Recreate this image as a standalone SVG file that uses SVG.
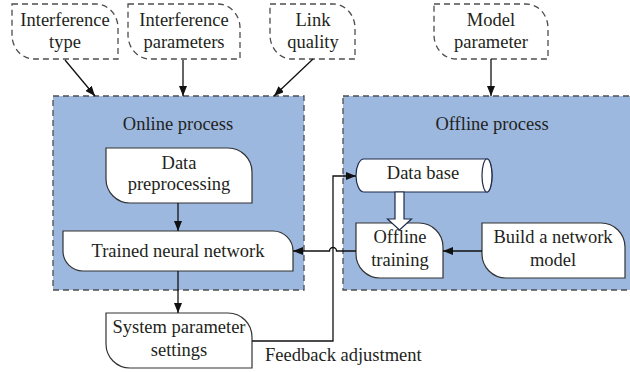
<svg xmlns="http://www.w3.org/2000/svg" width="630" height="372" viewBox="0 0 630 372">
<defs>
<style>
text{font-family:"Liberation Serif","Times New Roman",serif;font-size:18.5px;fill:#231f20;text-anchor:middle}
.panel{fill:#9cb8df;stroke:#4d4d4d;stroke-width:1.3;stroke-dasharray:6 4}
.input{fill:#fff;stroke:#4d4d4d;stroke-width:1.3;stroke-dasharray:6 4}
.proc{fill:#fff;stroke:#333;stroke-width:1.2}
.conn{fill:none;stroke:#111;stroke-width:1.3}
.db{fill:#fff;stroke:#1f2a4a;stroke-width:1.2}
</style>
<marker id="ah" viewBox="0 0 10 8" refX="10" refY="4" markerWidth="10" markerHeight="8" markerUnits="userSpaceOnUse" orient="auto">
<path d="M0 0 L10 4 L0 8 Z" fill="#111"/>
</marker>
</defs>

<g id="online-panel">
<rect class="panel" x="53" y="96" width="251" height="194"/>
<text x="178" y="130">Online process</text>
</g>
<g id="offline-panel">
<rect class="panel" x="343" y="96" width="300" height="194"/>
<text x="492" y="130">Offline process</text>
</g>

<g id="interference-type">
<path class="input" d="M12 4 H96 A22 24 0 0 1 118 28 V59 H34 A22 24 0 0 1 12 35 Z"/>
<text x="65" y="25.5">Interference</text>
<text x="65" y="48">type</text>
</g>
<g id="interference-parameters">
<path class="input" d="M128 4 H218 A22 24 0 0 1 240 28 V59 H150 A22 24 0 0 1 128 35 Z"/>
<text x="184" y="25.5">Interference</text>
<text x="184" y="48">parameters</text>
</g>
<g id="link-quality">
<path class="input" d="M270 4 H333 A22 24 0 0 1 355 28 V59 H292 A22 24 0 0 1 270 35 Z"/>
<text x="313" y="25.5">Link</text>
<text x="313" y="48">quality</text>
</g>
<g id="model-parameter">
<path class="input" d="M434 4 H526 A22 24 0 0 1 548 28 V59 H456 A22 24 0 0 1 434 35 Z"/>
<text x="491" y="25.5">Model</text>
<text x="491" y="48">parameter</text>
</g>

<g id="data-preprocessing">
<path class="proc" d="M106 148 H228 A24 24 0 0 1 252 172 V203 H130 A24 24 0 0 1 106 179 Z"/>
<text x="179" y="169">Data</text>
<text x="179" y="190">preprocessing</text>
</g>
<g id="trained-neural-network">
<path class="proc" d="M63 231 H273 A20 20 0 0 1 293 251 V271 H83 A20 20 0 0 1 63 251 Z"/>
<text x="178" y="257">Trained neural network</text>
</g>
<g id="system-parameter-settings">
<path class="proc" d="M106 313 H228 A24 24 0 0 1 252 337 V368 H130 A24 24 0 0 1 106 344 Z"/>
<text x="179" y="333">System parameter</text>
<text x="179" y="356">settings</text>
</g>
<g id="data-base">
<path class="db" d="M364 159 H487 A5 16.5 0 0 1 487 192 H364 A8 16.5 0 0 1 364 159 Z"/>
<ellipse class="db" cx="487" cy="175.5" rx="5" ry="16.5"/>
<text x="423" y="179">Data base</text>
</g>
<g id="offline-training">
<path class="proc" d="M356 223 H419 A24 24 0 0 1 443 247 V278 H380 A24 24 0 0 1 356 254 Z"/>
<text x="400" y="243">Offline</text>
<text x="400" y="265.5">training</text>
</g>
<g id="build-network-model">
<path class="proc" d="M482 223 H601 A24 24 0 0 1 625 247 V278 H506 A24 24 0 0 1 482 254 Z"/>
<text x="553" y="243">Build a network</text>
<text x="553" y="265.5">model</text>
</g>

<g id="connectors">
<line class="conn" x1="65" y1="60" x2="95" y2="96" marker-end="url(#ah)"/>
<line class="conn" x1="183" y1="60" x2="183" y2="96" marker-end="url(#ah)"/>
<line class="conn" x1="313" y1="59" x2="274" y2="96" marker-end="url(#ah)"/>
<line class="conn" x1="491" y1="59" x2="491" y2="96" marker-end="url(#ah)"/>
<line class="conn" x1="178" y1="203" x2="178" y2="231" marker-end="url(#ah)"/>
<line class="conn" x1="178" y1="271" x2="178" y2="313" marker-end="url(#ah)"/>
<line class="conn" x1="482" y1="251" x2="443" y2="251" marker-end="url(#ah)"/>
<path class="conn" d="M356 251 H336.5 A3.5 3.5 0 0 0 329.5 251 H293" marker-end="url(#ah)"/>
<path class="conn" d="M252 341 H333 V176 H356" marker-end="url(#ah)"/>
<path d="M395 192 H404 V219 H411.5 L399.5 230 L387.5 219 H395 Z" fill="#fff" stroke="#1f2a4a" stroke-width="1.2"/>
<text x="265" y="361" style="text-anchor:start">Feedback adjustment</text>
</g>
</svg>
